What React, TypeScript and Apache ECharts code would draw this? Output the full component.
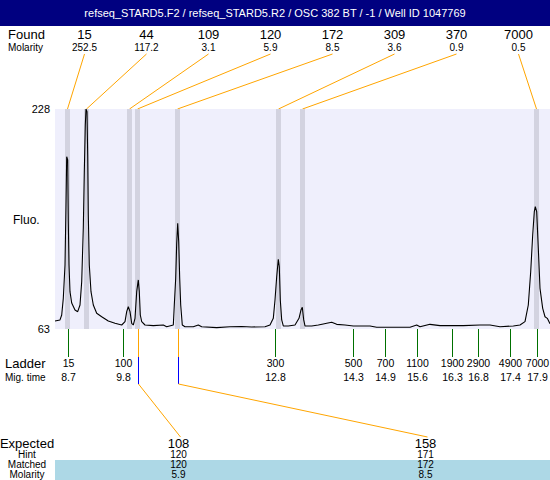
import React, { useEffect, useRef } from "react";
import * as echarts from "echarts";

const titleText = "refseq_STARD5.F2 / refseq_STARD5.R2 / OSC 382 BT / -1 / Well ID 1047769";

// Found peaks (size in bp, molarity, position on the trace axis)
const foundSizes = [15, 44, 109, 120, 172, 309, 370, 7000];
const foundMolarity = ["252.5", "117.2", "3.1", "5.9", "8.5", "3.6", "0.9", "0.5"];
const foundPeakPos = [12.5, 31.5, 74.5, 82.5, 122.5, 223.5, 247.5, 481.5];

// Ladder
const ladderSizes = [15, 100, 300, 500, 700, 1100, 1900, 2900, 4900, 7000];
const ladderMigTimes = ["8.7", "9.8", "12.8", "14.3", "14.9", "15.6", "16.3", "16.8", "17.4", "17.9"];
const ladderPos = [12.7, 67.7, 220.3, 298.3, 330.3, 362.3, 397.3, 423.3, 455.3, 482.3];

// Expected / matched table
const expectedSizes = [108, 158];
const hintSizes = [120, 171];
const matchedSizes = [120, 172];
const matchedMolarity = ["5.9", "8.5"];
const matchedFoundIndex = [3, 4];

// Fluorescence axis
const fluoMin = 63;
const fluoMax = 228;

// Electropherogram trace [position, fluorescence]
const trace: [number, number][] = [
  [0, 69], [5, 69.8], [6.7, 73.5], [8.3, 86], [10, 111], [11, 156], [11.7, 192.2], [12.7, 189.8],
  [13.3, 143.5], [14, 111], [15, 91], [16.7, 82.5], [20, 77.3], [22.7, 76], [25, 81], [26.7, 98.5],
  [28.3, 138.8], [29.3, 181], [30.3, 216], [31, 228], [32, 226], [32.7, 193.5], [33.3, 148.5],
  [34.3, 111], [36, 91], [38.3, 81], [41.7, 74.8], [46.7, 72.2], [53.3, 69], [60, 67.3], [66.7, 66],
  [70, 68.5], [71.7, 76], [73.3, 79.7], [75, 76], [76.7, 67.3], [78.3, 66], [80, 71], [81.7, 91],
  [83.3, 99.8], [84.3, 91], [85.3, 73.5], [86.7, 68.5], [90, 66], [98.3, 65.5], [108.3, 66],
  [111.7, 64.7], [118.3, 66], [119.3, 81], [120.7, 101], [121.7, 127.3], [122.7, 142.3],
  [123.7, 128.5], [124.7, 101], [125.7, 81], [127.3, 66], [130, 64.7], [138.3, 64.7], [143.3, 66],
  [146.7, 64.7], [161.7, 64], [175, 64.7], [186.7, 64.9], [196.7, 64.5], [210, 64.7], [215, 66],
  [218.3, 71], [220, 84.8], [221.7, 102.2], [223.3, 115.3], [224.3, 109.7], [225.3, 84.8],
  [226.7, 69.8], [228.3, 65.3], [233.3, 65.3], [240, 66], [244, 71], [246, 77.3], [247.3, 79.3],
  [248.7, 69.8], [250, 65.3], [256.7, 65.3], [263.3, 66], [268.3, 66.8], [271.7, 67.3], [276.7, 68],
  [281.7, 66.5], [290, 66], [298.3, 65.3], [315, 65.3], [321.7, 64.3], [331.7, 64.3], [355, 64.3],
  [361.7, 66], [365, 64.7], [375, 66.5], [385, 65.5], [408.3, 65.5], [425, 66], [435, 66],
  [445, 64.7], [458.3, 65.3], [465, 66], [470, 68.5], [473.3, 81], [475.7, 106], [477.7, 133.5],
  [479.3, 151], [480.3, 154.7], [481.7, 151], [483.3, 123.5], [485, 93.5], [487.7, 78.5],
  [490, 72.2], [492.3, 71], [495, 67],
];

const FONT = "'Liberation Sans', Arial, sans-serif";

function txt(x: number, y: number, text: string, size: number, align = "center", fill = "#000", lh?: number) {
  return {
    type: "text",
    x,
    y,
    silent: true,
    style: {
      text,
      fontSize: size,
      fontFamily: FONT,
      fill,
      align,
      verticalAlign: "middle",
      lineHeight: lh ?? Math.round(size * 1.15),
    },
  };
}

function ln(x1: number, y1: number, x2: number, y2: number, stroke: string) {
  return {
    type: "line",
    silent: true,
    shape: { x1, y1, x2, y2 },
    style: { stroke, lineWidth: 1 },
  };
}

export default function App() {
  const ref = useRef<HTMLDivElement>(null);
  useEffect(() => {
    if (!ref.current) return;
    const chart = echarts.init(ref.current, null, { renderer: "svg" });
    const gridTop = 109;
    const gridH = 220;
    chart.setOption({
      animation: false,
      grid: {
        left: 55,
        right: 0,
        top: gridTop,
        height: gridH,
        show: true,
        backgroundColor: "#EFEFFC",
        borderWidth: 0,
      },
      xAxis: { type: "value", min: 0, max: 495, show: false },
      yAxis: {
        type: "value",
        min: fluoMin,
        max: fluoMax,
        interval: fluoMax - fluoMin,
        axisLine: { show: false },
        axisTick: { show: false },
        splitLine: { show: false },
        axisLabel: { color: "#000", fontSize: 11, fontFamily: FONT, margin: 5 },
      },
      series: [
        {
          type: "line",
          data: [[0, fluoMin]],
          symbol: "none",
          lineStyle: { opacity: 0 },
          z: 1,
          silent: true,
          markArea: {
            silent: true,
            itemStyle: { color: "#D3D3E0" },
            data: foundPeakPos.map((p) => [{ xAxis: p - 2.5 }, { xAxis: p + 2.5 }]),
          },
        },
        {
          type: "line",
          data: trace,
          symbol: "none",
          lineStyle: { color: "#000", width: 1.1 },
          z: 3,
          silent: true,
        },
      ],
    });

    const px = (x: number) => (chart.convertToPixel({ gridIndex: 0 }, [x, fluoMax]) as number[])[0];
    const topY = (chart.convertToPixel({ gridIndex: 0 }, [0, fluoMax]) as number[])[1];
    const botY = (chart.convertToPixel({ gridIndex: 0 }, [0, fluoMin]) as number[])[1];

    const g: any[] = [];
    // title bar
    g.push({ type: "rect", silent: true, shape: { x: 0, y: 0, width: 550, height: 26 }, style: { fill: "#000080" } });
    g.push(txt(275, 13, titleText, 11, "center", "#fff"));

    // Found header
    g.push(txt(8, 34, "Found", 13, "left"));
    g.push(txt(8, 47, "Molarity", 10, "left"));
    foundSizes.forEach((s, i) => {
      const cx = 84.5 + 62 * i;
      g.push(txt(cx, 34, String(s), 13));
      g.push(txt(cx, 47, foundMolarity[i], 10));
      g.push(ln(cx, 54, px(foundPeakPos[i]), topY, "#FFA500"));
    });

    // Y axis name
    g.push(txt(13, 220, "Fluo.", 12, "left"));

    // Ladder
    g.push(txt(5, 363, "Ladder", 13, "left"));
    g.push(txt(5, 377, "Mig. time", 10, "left"));
    ladderSizes.forEach((s, i) => {
      const x = Math.round(px(ladderPos[i])) + 0.5;
      g.push(ln(x, botY, x, 357, "#007000"));
      g.push(txt(x, 363, String(s), 10.5));
      g.push(txt(x, 377, ladderMigTimes[i], 10.5));
    });

    // Expected table
    g.push({ type: "rect", silent: true, shape: { x: 55, y: 460, width: 495, height: 20 }, style: { fill: "#ADD8E6" } });
    g.push(txt(27, 443, "Expected", 13, "center", "#000", 13));
    g.push(txt(27, 454.5, "Hint", 10, "center", "#000", 9));
    g.push(txt(27, 464.5, "Matched", 10, "center", "#000", 9));
    g.push(txt(27, 474.5, "Molarity", 10, "center", "#000", 9));
    expectedSizes.forEach((s, i) => {
      const cx = 55 + 123.5 * (2 * i + 1);
      g.push(txt(cx, 443, String(s), 13, "center", "#000", 13));
      g.push(txt(cx, 454.5, String(hintSizes[i]), 10, "center", "#000", 9));
      g.push(txt(cx, 464.5, String(matchedSizes[i]), 10, "center", "#000", 9));
      g.push(txt(cx, 474.5, matchedMolarity[i], 10, "center", "#000", 9));
      const x = Math.round(px(foundPeakPos[matchedFoundIndex[i]])) + 0.5;
      g.push(ln(x, botY, x, 357, "#FFA500"));
      g.push(ln(x, 357, x, 384, "#0000FF"));
      g.push(ln(x, 384, cx + 2, 437, "#FFA500"));
    });

    chart.setOption({ graphic: g });
    return () => chart.dispose();
  }, []);
  return (
    <div
      ref={ref}
      style={{ position: "absolute", left: 0, top: 0, width: 550, height: 480, background: "#fff" }}
    />
  );
}
